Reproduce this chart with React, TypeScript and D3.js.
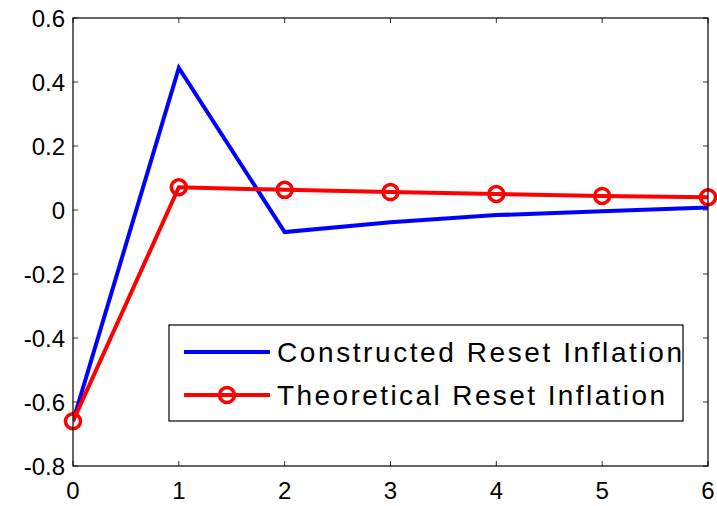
import React from "react";
import * as d3 from "d3";

const xs = [0, 1, 2, 3, 4, 5, 6];
const constructed = [-0.66, 0.444, -0.069, -0.038, -0.016, -0.004, 0.008];
const theoretical = [-0.66, 0.071, 0.063, 0.056, 0.05, 0.044, 0.04];
const xTicks = [0, 1, 2, 3, 4, 5, 6];
const yTicks = [-0.8, -0.6, -0.4, -0.2, 0, 0.2, 0.4, 0.6];
const seriesNames = ["Constructed Reset Inflation", "Theoretical Reset Inflation"];

const W = 717, H = 506;
const L = 73, R = 708, T = 18, B = 466;

export default function App() {
  const x = d3.scaleLinear().domain([0, 6]).range([L, R]);
  const y = d3.scaleLinear().domain([-0.8, 0.6]).range([B, T]);
  const line = d3.line<number>().x((_, i) => x(xs[i])).y((d) => y(d));
  const font = "Liberation Sans, Arial, sans-serif";
  const fmt = (v: number) => (v === 0 ? "0" : v.toFixed(1));
  return (
    <svg width={W} height={H} style={{ position: "absolute", left: 0, top: 0 }}>
      <rect x={0} y={0} width={W} height={H} fill="#fff" />
      <defs>
        <clipPath id="pc">
          <rect x={L} y={T} width={R - L} height={B - T} />
        </clipPath>
      </defs>
      {xTicks.map((t) => (
        <g key={"x" + t}>
          <line x1={x(t)} x2={x(t)} y1={B} y2={B - 5} stroke="#333" />
          <line x1={x(t)} x2={x(t)} y1={T} y2={T + 5} stroke="#333" />
          <text x={x(t)} y={499} textAnchor="middle" fontFamily={font} fontSize={24} fill="#000">
            {t}
          </text>
        </g>
      ))}
      {yTicks.map((t) => (
        <g key={"y" + t}>
          <line x1={L} x2={L + 5} y1={y(t)} y2={y(t)} stroke="#333" />
          <line x1={R} x2={R - 5} y1={y(t)} y2={y(t)} stroke="#333" />
          <text x={65} y={y(t) + 8.5} textAnchor="end" fontFamily={font} fontSize={24} fill="#000">
            {fmt(t)}
          </text>
        </g>
      ))}
      <g clipPath="url(#pc)">
        <path d={line(constructed) || ""} fill="none" stroke="#0000ff" strokeWidth={4} strokeLinejoin="miter" />
        <path d={line(theoretical) || ""} fill="none" stroke="#ff0000" strokeWidth={4} />
      </g>
      {theoretical.map((v, i) => (
        <circle key={i} cx={x(xs[i])} cy={y(v)} r={7.5} fill="none" stroke="#ff0000" strokeWidth={3.5} />
      ))}
      <rect x={L} y={T} width={R - L} height={B - T} fill="none" stroke="#000" strokeWidth={1.2} />
      <g>
        <rect x={169} y={325} width={514} height={96} fill="#fff" stroke="#000" strokeWidth={1.2} />
        <line x1={184} x2={270} y1={352} y2={352} stroke="#0000ff" strokeWidth={4} />
        <line x1={184} x2={270} y1={395} y2={395} stroke="#ff0000" strokeWidth={4} />
        <circle cx={227} cy={395} r={7.5} fill="none" stroke="#ff0000" strokeWidth={3.5} />
        <text x={277} y={362} fontFamily={font} fontSize={28} fill="#000" textLength={405} lengthAdjust="spacing">
          {seriesNames[0]}
        </text>
        <text x={277} y={405} fontFamily={font} fontSize={28} fill="#000" textLength={388} lengthAdjust="spacing">
          {seriesNames[1]}
        </text>
      </g>
    </svg>
  );
}
